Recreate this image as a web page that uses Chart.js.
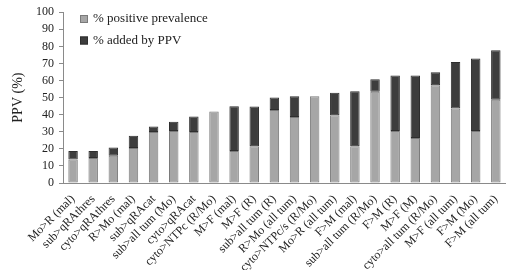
<!DOCTYPE html>
<html>
<head>
<meta charset="utf-8">
<script src="https://cdn.jsdelivr.net/npm/chart.js@4.4.1/dist/chart.umd.min.js"></script>
<style>
  html, body { margin: 0; padding: 0; background: #ffffff; }
  #wrap { width: 515px; height: 270px; position: relative; }
</style>
</head>
<body>
<div id="wrap"><canvas id="c" width="515" height="270"></canvas></div>
<script>
const categories = [
  "Mo>R (mal)", "sub>qRAthres", "cyto>qRAthres", "R>Mo (mal)", "sub>qRAcat",
  "sub>all tum (Mo)", "cyto>qRAcat", "cyto>NTPc (R/Mo)", "M>F (mal)", "M>F (R)",
  "sub>all tum (R)", "R>Mo (all tum)", "cyto>NTPc/s (R/Mo)", "Mo>R (all tum)", "F>M (mal)",
  "sub>all tum (R/Mo)", "F>M (R)", "M>F (M)", "cyto>all tum (R/Mo)", "M>F (all tum)",
  "F>M (Mo)", "F>M (all tum)"
];
const positivePrevalence = [13.8, 14.6, 15.9, 20.5, 29.8, 30.4, 29.8, 41.9, 18.8, 21.5, 42.7, 38.6, 50.8, 39.6, 21.5, 53.4, 30.4, 26.3, 57.3, 43.6, 30.4, 48.8];
const addedByPPV = [5.0, 4.2, 4.9, 7.2, 3.3, 5.5, 9.2, 0, 26.2, 23.3, 7.3, 12.2, 0, 13.3, 32.2, 7.4, 32.5, 36.6, 7.5, 27.2, 42.5, 28.9];
const seriesNames = ["% positive prevalence", "% added by PPV"];
const yTicks = { min: 0, max: 100, step: 10 };

const FONT = "'Liberation Serif', 'Times New Roman', serif";
const TEXT = "#222222";
const AXIS = "#8a8a8a";

const legendInside = {
  id: 'legendInside',
  afterDraw(chart) {
    const ctx = chart.ctx;
    const x0 = chart.chartArea.left + 17;
    const rows = [19, 40.5];
    ctx.save();
    ctx.font = "13px " + FONT;
    ctx.textBaseline = 'middle';
    ctx.textAlign = 'left';
    chart.data.datasets.forEach((ds, i) => {
      const y = rows[i];
      ctx.fillStyle = ds.backgroundColor;
      ctx.fillRect(x0, y - 4, 8, 8);
      ctx.strokeStyle = ds.borderColor;
      ctx.lineWidth = 1;
      ctx.strokeRect(x0 + 0.5, y - 3.5, 7, 7);
      ctx.fillStyle = TEXT;
      ctx.fillText(ds.label, x0 + 13, y);
    });
    ctx.restore();
  }
};

new Chart(document.getElementById('c'), {
  type: 'bar',
  data: {
    labels: categories,
    datasets: [
      {
        label: seriesNames[0],
        data: positivePrevalence,
        backgroundColor: '#a6a6a6',
        borderColor: '#7a7a7a',
        borderWidth: (c) => (c.raw === 0 ? 0 : 1),
        borderSkipped: false,
        barPercentage: 0.47,
        categoryPercentage: 1.0
      },
      {
        label: seriesNames[1],
        data: addedByPPV,
        backgroundColor: '#3d3d3d',
        borderColor: '#2e2e2e',
        borderWidth: (c) => (c.raw === 0 ? 0 : 1),
        borderSkipped: false,
        barPercentage: 0.47,
        categoryPercentage: 1.0
      }
    ]
  },
  options: {
    responsive: false,
    animation: false,
    devicePixelRatio: 1,
    layout: { padding: { top: 11, right: 0, left: 0, bottom: 0 } },
    plugins: {
      legend: { display: false },
      tooltip: { enabled: false }
    },
    scales: {
      x: {
        stacked: true,
        grid: { display: false, drawTicks: false },
        border: { display: true, color: AXIS, width: 1 },
        ticks: {
          autoSkip: false,
          minRotation: 45,
          maxRotation: 45,
          padding: 9,
          color: TEXT,
          font: { family: FONT, size: 12 }
        },
        afterFit(scale) { scale.height = 87; }
      },
      y: {
        stacked: true,
        min: yTicks.min,
        max: yTicks.max,
        grid: { drawOnChartArea: false, drawTicks: true, tickLength: 4, color: AXIS },
        border: { display: true, color: AXIS, width: 1 },
        ticks: {
          stepSize: yTicks.step,
          autoSkip: false,
          padding: 5,
          color: TEXT,
          font: { family: FONT, size: 12 }
        },
        title: {
          display: true,
          text: 'PPV (%)',
          color: TEXT,
          font: { family: FONT, size: 14 },
          padding: { top: 10, bottom: 0 }
        },
        afterFit(scale) { scale.width = 63; }
      }
    }
  },
  plugins: [legendInside]
});
</script>
</body>
</html>
